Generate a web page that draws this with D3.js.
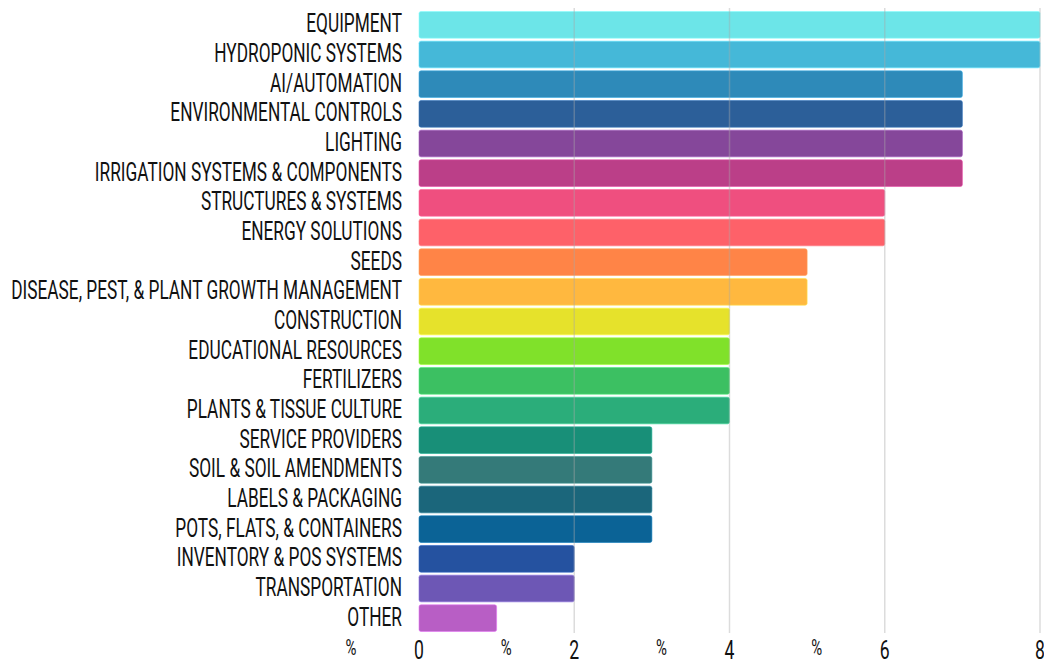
<!DOCTYPE html>
<html>
<head>
<meta charset="utf-8">
<script src="https://cdn.jsdelivr.net/npm/d3@7"></script>
<style>
  html, body { margin: 0; padding: 0; background: #fff; }
  svg { display: block; }
  .lbl { font-family: "Roboto", "Noto Sans", sans-serif; fill: #111; }
</style>
</head>
<body>
<svg id="chart" width="1044" height="662"></svg>
<script>
const categories = [
  "EQUIPMENT", "HYDROPONIC SYSTEMS", "AI/AUTOMATION", "ENVIRONMENTAL CONTROLS",
  "LIGHTING", "IRRIGATION SYSTEMS & COMPONENTS", "STRUCTURES & SYSTEMS",
  "ENERGY SOLUTIONS", "SEEDS", "DISEASE, PEST, & PLANT GROWTH MANAGEMENT",
  "CONSTRUCTION", "EDUCATIONAL RESOURCES", "FERTILIZERS", "PLANTS & TISSUE CULTURE",
  "SERVICE PROVIDERS", "SOIL & SOIL AMENDMENTS", "LABELS & PACKAGING",
  "POTS, FLATS, & CONTAINERS", "INVENTORY & POS SYSTEMS", "TRANSPORTATION", "OTHER"
];
const values = [8, 8, 7, 7, 7, 7, 6, 6, 5, 5, 4, 4, 4, 4, 3, 3, 3, 3, 2, 2, 1];
const colors = [
  "#6ce5e8", "#45b8d8", "#2e8ab9", "#2c5f99", "#85479a", "#bb3f88", "#ef4f7f",
  "#fe6169", "#ff8447", "#ffb83f", "#e6e22b", "#80e12a", "#3cc062", "#2bad7a",
  "#188f78", "#347a79", "#1b667b", "#0b6396", "#2552a0", "#6d57b5", "#b85ec5"
];
const tickValues = [0, 2, 4, 6, 8];
const tickSuffix = "%";

const svg = d3.select("#chart");
const x = d3.scaleLinear().domain([0, 8]).range([419, 1040]);
const y = d3.scaleBand().domain(categories).range([10, 633]).paddingInner(0.1).paddingOuter(0.05);

// bars
svg.append("g").selectAll("rect")
  .data(categories)
  .join("rect")
  .attr("x", x(0))
  .attr("y", d => y(d))
  .attr("width", (d, i) => x(values[i]) - x(0))
  .attr("height", y.bandwidth())
  .attr("rx", 2)
  .attr("fill", (d, i) => colors[i])
  .attr("stroke", (d, i) => d3.color(colors[i]).brighter(0.6))
  .attr("stroke-opacity", 0.6)
  .attr("stroke-width", 1);

// vertical grid lines, drawn faintly over the bars
svg.append("g").selectAll("line")
  .data(tickValues.filter(v => v > 0))
  .join("line")
  .attr("x1", d => x(d)).attr("x2", d => x(d))
  .attr("y1", 8).attr("y2", 633)
  .attr("stroke", "#a8a8a8")
  .attr("stroke-opacity", 0.4)
  .attr("stroke-width", 1.5);

// category labels
const labels = svg.append("g").selectAll("text")
  .data(categories)
  .join("text")
  .attr("class", "lbl")
  .attr("text-anchor", "end")
  .attr("font-size", 25.5)
  .attr("dy", "0.35em")
  .text(d => d);

// squeeze the letterforms so the longest label fits left of the plot
const longest = d3.max(labels.nodes(), n => n.getComputedTextLength());
const sx = 391 / longest;
labels.attr("transform", d => `translate(402,${y(d) + y.bandwidth() / 2 - 1.5}) scale(${sx},1)`);

// axis tick numbers with their suffix
const ticks = svg.append("g").selectAll("g")
  .data(tickValues)
  .join("g");
ticks.append("text")
  .attr("class", "lbl")
  .attr("text-anchor", "middle")
  .attr("font-size", 26)
  .attr("transform", d => `translate(${x(d)},659) scale(${sx},1)`)
  .text(d => d);
ticks.filter(d => d < 8).append("text")
  .attr("class", "lbl")
  .attr("text-anchor", "middle")
  .attr("font-size", 22)
  .attr("fill", "#333")
  .attr("transform", d => `translate(${x(d) - 68},655) scale(${sx},1)`)
  .text(tickSuffix);
</script>
</body>
</html>
